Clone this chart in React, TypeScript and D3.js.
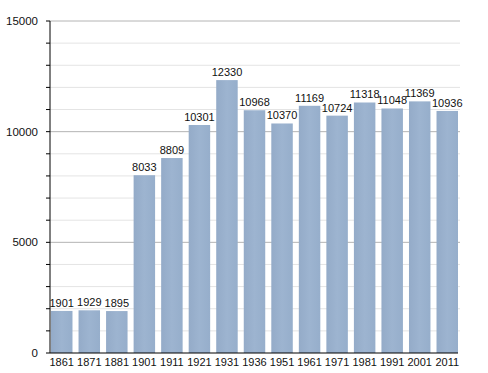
import React from 'react';
import * as d3 from 'd3';

const years = ['1861', '1871', '1881', '1901', '1911', '1921', '1931', '1936', '1951', '1961', '1971', '1981', '1991', '2001', '2011'];
const population = [1901, 1929, 1895, 8033, 8809, 10301, 12330, 10968, 10370, 11169, 10724, 11318, 11048, 11369, 10936];
const majorTicks = [0, 5000, 10000, 15000];

const width = 488, height = 373;
const margin = {top: 21, right: 30, bottom: 20, left: 50};

export default function App() {
  const x = d3.scaleBand()
    .domain(years)
    .range([margin.left + 1, width - margin.right])
    .paddingInner(0.22)
    .paddingOuter(0);

  const y = d3.scaleLinear()
    .domain([0, 15000])
    .range([height - margin.bottom, margin.top]);

  const minorTicks = d3.range(0, 15001, 1000);

  return (
    <svg width={width} height={height} style={{position: 'absolute', left: 0, top: 0}}
      fontFamily="'Liberation Sans', Arial, sans-serif">
      <defs>
        <linearGradient id="bar" x1="0" x2="1" y1="0" y2="0">
          <stop offset="0" stopColor="#94abc8" />
          <stop offset="0.5" stopColor="#9db4d0" />
          <stop offset="1" stopColor="#96aecb" />
        </linearGradient>
      </defs>
      {/* minor gridlines */}
      {minorTicks.filter(t => t % 5000 !== 0).map(t => (
        <line key={'m' + t} x1={margin.left} x2={width - margin.right + 2}
          y1={y(t)} y2={y(t)} stroke="#e4e4e4" />
      ))}
      {majorTicks.filter(t => t > 0).map(t => (
        <line key={'g' + t} x1={margin.left} x2={width - margin.right + 2}
          y1={y(t)} y2={y(t)} stroke="#b4b4b4" />
      ))}
      {years.map((yr, i) => (
        <rect key={yr} x={x(yr)} y={y(population[i])} width={x.bandwidth()}
          height={y(0) - y(population[i])} fill="url(#bar)" />
      ))}
      {years.map((yr, i) => (
        <text key={'v' + yr} x={x(yr)! + x.bandwidth() / 2} y={y(population[i]) - 4}
          textAnchor="middle" fontSize={11} fill="#111">{population[i]}</text>
      ))}
      {/* y axis */}
      <line x1={margin.left} x2={margin.left} y1={y(15000)} y2={y(0)} stroke="#000" />
      {minorTicks.map(t => (
        <line key={'t' + t} x1={margin.left - 4} x2={margin.left} y1={y(t)} y2={y(t)} stroke="#000" />
      ))}
      {majorTicks.map(t => (
        <text key={'l' + t} x={margin.left - 12} y={y(t) + 4} textAnchor="end"
          fontSize={11.5} fill="#111">{t}</text>
      ))}
      {/* x axis */}
      <line x1={margin.left} x2={width - margin.right} y1={y(0)} y2={y(0)} stroke="#000" />
      {years.map(yr => (
        <text key={'x' + yr} x={x(yr)! + x.bandwidth() / 2} y={y(0) + 13}
          textAnchor="middle" fontSize={11} fill="#111">{yr}</text>
      ))}
    </svg>
  );
}
